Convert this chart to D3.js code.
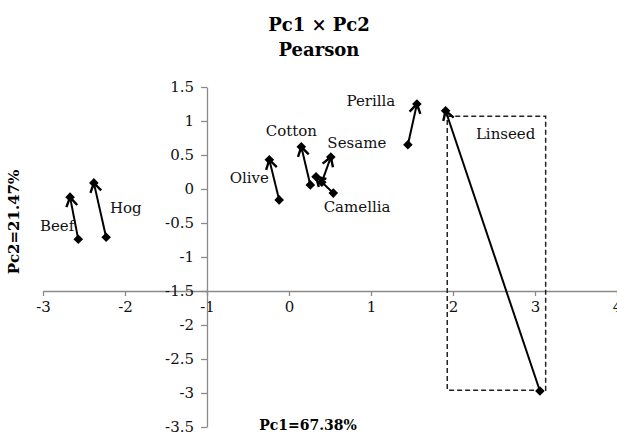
<!DOCTYPE html>
<html>
<head>
<meta charset="utf-8">
<script src="https://cdn.jsdelivr.net/npm/d3@7/dist/d3.min.js"></script>
<style>
  body { margin: 0; background: #fff; }
  svg { display: block; font-family: "DejaVu Serif", serif; }
</style>
</head>
<body>
<div id="app"></div>
<script>
// oils, start point (first) and end point (second) on Pc1 x Pc2
const oils = ["Beef", "Hog", "Olive", "Cotton", "Sesame", "Camellia", "Perilla", "Linseed"];
const fromPc1 = [-2.57, -2.23, -0.12, 0.26, 0.40, 0.54, 1.45, 3.06];
const fromPc2 = [-0.74, -0.71, -0.16, 0.06, 0.10, -0.06, 0.65, -2.97];
const toPc1 = [-2.67, -2.38, -0.24, 0.15, 0.51, 0.33, 1.56, 1.91];
const toPc2 = [-0.12, 0.09, 0.43, 0.62, 0.47, 0.18, 1.25, 1.15];

const xTicks = [-3, -2, -1, 0, 1, 2, 3, 4];
const yTicks = [1.5, 1, 0.5, 0, -0.5, -1, -1.5, -2, -2.5, -3, -3.5];

// dashed box around Linseed (Pc1 / Pc2 bounds)
const boxPc1 = [1.93, 3.13];
const boxPc2 = [-2.96, 1.07];

const w = 617;
const h = 437;

const svg = d3.select("#app")
    .append("svg")
    .attr("width", w)
    .attr("height", h);

const xScale = d3.scaleLinear().domain([-3, 4]).range([43, 617]);
const yScale = d3.scaleLinear().domain([-3.5, 1.5]).range([427, 87]);

// axes cross at Pc1=-1, Pc2=-1.5
const xAxis = d3.axisBottom(xScale)
    .tickValues(xTicks)
    .tickFormat(d => String(d))
    .tickSize(5)
    .tickSizeOuter(0)
    .tickPadding(5);

const yAxis = d3.axisLeft(yScale)
    .tickValues(yTicks)
    .tickFormat(d => String(d))
    .tickSize(6)
    .tickSizeOuter(0)
    .tickPadding(7);

const gx = svg.append("g")
    .attr("transform", `translate(0,${yScale(-1.5)})`)
    .call(xAxis);

const gy = svg.append("g")
    .attr("transform", `translate(${xScale(-1)},0)`)
    .call(yAxis);

[gx, gy].forEach(g => {
    g.select(".domain").attr("stroke", "#8a8a8a").attr("stroke-width", 1.3);
    g.selectAll(".tick line").attr("stroke", "#8a8a8a").attr("stroke-width", 1.3);
    g.selectAll(".tick text")
        .attr("fill", "#111")
        .style("font-family", "DejaVu Serif, serif")
        .style("font-size", "15px");
});

// dashed box
svg.append("rect")
    .attr("x", xScale(boxPc1[0]))
    .attr("y", yScale(boxPc2[1]))
    .attr("width", xScale(boxPc1[1]) - xScale(boxPc1[0]))
    .attr("height", yScale(boxPc2[0]) - yScale(boxPc2[1]))
    .attr("fill", "none")
    .attr("stroke", "#222")
    .attr("stroke-width", 1.5)
    .attr("stroke-dasharray", "5,3");

// open arrow head
svg.append("defs").append("marker")
    .attr("id", "arrow")
    .attr("markerUnits", "userSpaceOnUse")
    .attr("viewBox", "-12 -8 14 16")
    .attr("markerWidth", 14)
    .attr("markerHeight", 16)
    .attr("refX", 0)
    .attr("refY", 0)
    .attr("orient", "auto")
    .append("path")
    .attr("d", "M-9,-5.5L0,0L-9,5.5")
    .attr("fill", "none")
    .attr("stroke", "#000")
    .attr("stroke-width", 2.4);

const rows = oils.map((name, i) => ({
    name,
    x0: fromPc1[i], y0: fromPc2[i],
    x1: toPc1[i], y1: toPc2[i]
}));

svg.append("g")
    .selectAll("line")
    .data(rows)
    .enter()
    .append("line")
    .attr("x1", d => xScale(d.x0))
    .attr("y1", d => yScale(d.y0))
    .attr("x2", d => xScale(d.x1))
    .attr("y2", d => yScale(d.y1))
    .attr("stroke", "#000")
    .attr("stroke-width", 2)
    .attr("marker-end", "url(#arrow)");

const diamond = d3.symbol(d3.symbolSquare).size(46);
const pts = rows.flatMap(d => [[d.x0, d.y0], [d.x1, d.y1]]);

svg.append("g")
    .selectAll("path")
    .data(pts)
    .enter()
    .append("path")
    .attr("d", diamond)
    .attr("transform", d => `translate(${xScale(d[0])},${yScale(d[1])}) rotate(45)`)
    .attr("fill", "#000");

// label offsets from the end point, px
const labelOffset = {
    Beef: [-13, 29], Hog: [32, 25], Olive: [-20, 18], Cotton: [-10, -16],
    Sesame: [26, -14], Camellia: [41, 30], Perilla: [-46, -3], Linseed: [60, 23]
};

svg.append("g")
    .selectAll("text")
    .data(rows)
    .enter()
    .append("text")
    .attr("x", d => xScale(d.x1) + labelOffset[d.name][0])
    .attr("y", d => yScale(d.y1) + labelOffset[d.name][1])
    .attr("text-anchor", "middle")
    .attr("dominant-baseline", "central")
    .style("font-size", "15px")
    .attr("fill", "#111")
    .text(d => d.name);

// titles
svg.append("text")
    .attr("x", 319).attr("y", 24)
    .attr("text-anchor", "middle").attr("dominant-baseline", "central")
    .style("font-size", "18px").style("font-weight", "bold")
    .text("Pc1 × Pc2");

svg.append("text")
    .attr("x", 319).attr("y", 49)
    .attr("text-anchor", "middle").attr("dominant-baseline", "central")
    .style("font-size", "18px").style("font-weight", "bold")
    .text("Pearson");

svg.append("text")
    .attr("x", 308).attr("y", 425)
    .attr("text-anchor", "middle").attr("dominant-baseline", "central")
    .style("font-size", "14px").style("font-weight", "bold")
    .text("Pc1=67.38%");

svg.append("text")
    .attr("transform", "translate(14,222) rotate(-90)")
    .attr("text-anchor", "middle").attr("dominant-baseline", "central")
    .style("font-size", "15px").style("font-weight", "bold")
    .text("Pc2=21.47%");
</script>
</body>
</html>
